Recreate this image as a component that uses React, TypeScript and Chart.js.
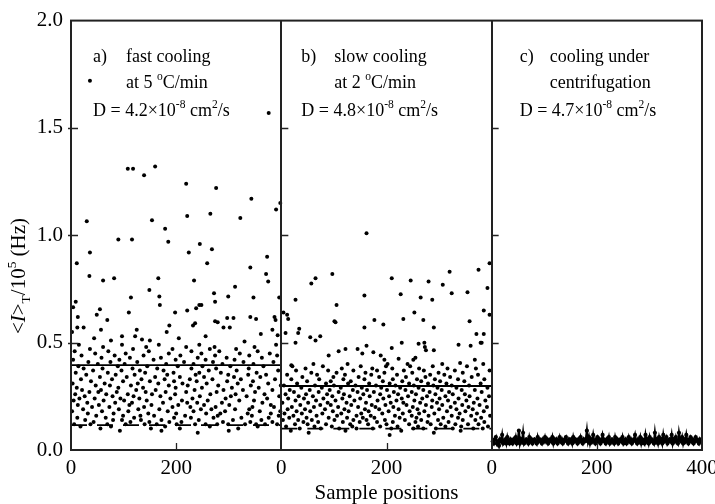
import React, { useEffect, useRef } from "react";
import { Chart, registerables } from "chart.js";
Chart.register(...registerables);

const FONT = "'Liberation Serif', 'Times New Roman', serif";
const PANEL_SPAN = 400;
const OFFSET_A = 0;
const OFFSET_B = 400;
const OFFSET_C = 800;

const X_TICK_VALUES = [0, 200, 400, 600, 800, 1000, 1200];
const X_TICK_LABELS = ["0", "200", "0", "200", "0", "200", "400"];
const Y_TICK_LABELS = ["0.0", "0.5", "1.0", "1.5", "2.0"];

// Panel a: sparse high values [sample position, value]
const panelAHigh: [number, number][] = [
  [108, 1.31], [118, 1.31], [139, 1.28], [160, 1.32], [219, 1.24], [276, 1.22], [343, 1.17], [398, 1.15], [390, 1.12], [36, 1.72], [376, 1.57],
  [30, 1.065], [154, 1.07], [221, 1.09], [265, 1.1], [322, 1.08], [179, 1.03], [90, 0.98], [116, 0.98], [185, 0.97], [245, 0.96], [36, 0.92],
  [224, 0.92], [268, 0.935], [11, 0.87], [373, 0.9], [259, 0.87], [35, 0.81], [341, 0.85], [371, 0.82], [61, 0.79], [82, 0.8], [166, 0.8],
  [234, 0.79], [375, 0.785], [312, 0.76], [149, 0.745], [272, 0.73], [114, 0.71], [347, 0.71], [299, 0.715], [168, 0.715], [9, 0.69],
  [396, 0.71], [274, 0.69], [169, 0.675], [244, 0.675], [4, 0.665], [55, 0.655], [49, 0.63], [110, 0.64], [198, 0.64], [221, 0.65],
  [238, 0.66], [248, 0.675], [341, 0.62], [387, 0.62], [13, 0.62], [69, 0.605], [125, 0.56], [187, 0.58], [274, 0.6], [279, 0.595],
  [290, 0.57], [302, 0.57], [309, 0.615], [297, 0.615], [352, 0.61], [389, 0.605], [12, 0.57], [24, 0.57], [57, 0.56], [97, 0.53],
  [122, 0.53], [150, 0.51], [182, 0.55], [232, 0.58], [236, 0.59], [383, 0.56], [393, 0.535], [2, 0.55], [44, 0.52], [76, 0.51],
  [135, 0.515], [205, 0.52], [256, 0.53], [330, 0.505], [361, 0.54],
];

// Panel a: bulk of the scatter, grouped by value: [value, sample positions]
const panelABulk: [number, number[]][] = [
  [0.08, [241]],
  [0.09, [93, 300, 172]],
  [0.1, [56, 152, 318, 207]],
  [0.11, [18, 76, 179, 264, 355]],
  [0.12, [6, 37, 69, 104, 140, 163, 201, 236, 256, 278, 299, 331, 352, 369, 392]],
  [0.13, [43, 113, 187, 210, 289, 341, 383, 149]],
  [0.14, [27, 97, 133, 172, 243, 308, 362, 80]],
  [0.15, [12, 66, 120, 196, 228, 271, 324, 376]],
  [0.16, [48, 99, 158, 217, 279, 344, 395, 132]],
  [0.17, [32, 81, 147, 200, 257, 284, 336, 380]],
  [0.18, [2, 59, 109, 184, 233, 293, 359, 398]],
  [0.19, [23, 91, 128, 168, 247, 312, 339, 267]],
  [0.2, [40, 73, 139, 193, 227, 275, 345, 386]],
  [0.21, [13, 53, 111, 153, 204, 253, 301, 380]],
  [0.22, [31, 84, 116, 175, 240, 287, 364, 221]],
  [0.23, [5, 62, 101, 144, 211, 260, 320, 348]],
  [0.24, [45, 94, 130, 189, 231, 294, 373, 16]],
  [0.25, [26, 79, 119, 170, 245, 304, 334, 396]],
  [0.26, [8, 67, 108, 154, 198, 265, 313, 368]],
  [0.27, [35, 87, 142, 180, 219, 277, 350, 52]],
  [0.28, [21, 57, 124, 161, 235, 290, 327, 383]],
  [0.29, [11, 90, 137, 199, 249, 306, 357]],
  [0.3, [47, 74, 114, 186, 222, 280, 342, 399]],
  [0.31, [3, 64, 127, 166, 212, 258, 317, 375]],
  [0.32, [38, 99, 150, 196, 239, 297, 346]],
  [0.33, [19, 78, 134, 178, 226, 269, 323, 388]],
  [0.34, [55, 106, 160, 207, 253, 310, 360]],
  [0.35, [29, 85, 121, 183, 237, 299, 337, 371]],
  [0.36, [9, 70, 141, 195, 244, 285, 353]],
  [0.37, [42, 96, 131, 176, 262, 315, 394]],
  [0.38, [24, 60, 117, 164, 229, 276, 338]],
  [0.39, [14, 89, 145, 203, 250, 303, 366]],
  [0.4, [51, 102, 181, 233, 288, 347]],
  [0.41, [33, 75, 126, 215, 270, 328, 385]],
  [0.42, [4, 92, 157, 199, 256, 311]],
  [0.43, [58, 112, 171, 241, 296, 363]],
  [0.44, [20, 83, 138, 208, 274, 339, 392]],
  [0.45, [46, 104, 186, 248, 321, 378]],
  [0.46, [7, 71, 148, 229, 282, 355]],
  [0.47, [36, 118, 193, 264, 314]],
  [0.48, [61, 143, 219, 273, 349]],
  [0.49, [15, 97, 167, 244, 390]],
];

// Panel b: sparse high values [sample position, value]
const panelBHigh: [number, number][] = [
  [162, 1.01], [97, 0.82], [65, 0.8], [57, 0.775], [210, 0.8], [246, 0.79], [280, 0.785], [307, 0.77], [320, 0.83], [375, 0.84],
  [396, 0.87], [392, 0.755], [158, 0.72], [227, 0.725], [324, 0.73], [354, 0.735], [27, 0.7], [265, 0.71], [287, 0.7], [105, 0.675],
  [385, 0.65], [253, 0.64], [396, 0.63], [101, 0.6], [103, 0.595], [158, 0.57], [177, 0.605], [194, 0.585], [232, 0.61], [270, 0.605],
  [290, 0.57], [358, 0.6], [4, 0.64], [11, 0.63], [13, 0.61], [8, 0.545], [34, 0.565], [32, 0.545], [55, 0.525], [65, 0.51],
  [74, 0.53], [27, 0.5], [229, 0.5], [261, 0.495], [273, 0.48], [275, 0.465], [272, 0.5], [337, 0.49], [360, 0.485], [371, 0.54],
  [385, 0.54], [379, 0.5], [381, 0.5], [19, 0.395], [90, 0.44], [109, 0.46], [122, 0.47], [145, 0.47], [162, 0.485], [154, 0.45],
  [175, 0.455], [189, 0.44], [196, 0.42], [202, 0.4], [210, 0.475], [223, 0.425], [251, 0.42], [290, 0.465], [255, 0.43], [368, 0.42],
  [340, 0.405],
];

// Panel b: bulk of the scatter, grouped by value: [value, sample positions]
const panelBBulk: [number, number[]][] = [
  [0.07, [206]],
  [0.08, [52, 290]],
  [0.09, [18, 122, 228, 341]],
  [0.1, [35, 75, 110, 143, 174, 209, 251, 270, 294, 326, 365, 383]],
  [0.11, [9, 63, 96, 135, 188, 221, 260, 312, 342, 393]],
  [0.12, [26, 50, 85, 131, 165, 200, 243, 284, 303, 331, 355, 375]],
  [0.13, [42, 70, 117, 149, 182, 212, 255, 278, 318, 386]],
  [0.14, [3, 32, 58, 101, 137, 162, 197, 235, 266, 298, 345, 369]],
  [0.15, [15, 48, 90, 125, 155, 177, 225, 257, 308, 336, 380]],
  [0.16, [23, 67, 106, 143, 170, 216, 248, 280, 324, 361, 397]],
  [0.17, [6, 39, 78, 114, 152, 192, 231, 262, 291, 339, 372]],
  [0.18, [29, 55, 98, 128, 166, 204, 244, 272, 315, 350, 385]],
  [0.19, [12, 45, 83, 120, 159, 186, 223, 259, 300, 333, 364]],
  [0.2, [20, 62, 108, 146, 179, 213, 250, 286, 322, 356, 391]],
  [0.21, [36, 74, 94, 133, 172, 198, 238, 275, 306, 344, 377]],
  [0.22, [2, 51, 88, 124, 161, 208, 232, 264, 296, 330, 366]],
  [0.23, [27, 66, 103, 139, 183, 219, 253, 287, 317, 352, 388]],
  [0.24, [13, 43, 80, 116, 150, 194, 229, 268, 301, 337, 373]],
  [0.25, [33, 60, 97, 130, 168, 205, 241, 277, 312, 358, 395]],
  [0.26, [8, 47, 87, 119, 156, 188, 222, 256, 293, 326, 349]],
  [0.27, [24, 71, 109, 145, 176, 214, 248, 282, 319, 381]],
  [0.28, [16, 54, 92, 136, 163, 201, 236, 270, 305, 343, 368]],
  [0.29, [38, 77, 113, 153, 190, 226, 261, 297, 333, 392]],
  [0.3, [5, 64, 100, 141, 180, 217, 252, 289, 324, 357]],
  [0.31, [30, 85, 127, 167, 206, 243, 279, 314, 379]],
  [0.32, [49, 94, 132, 193, 230, 266, 302, 348]],
  [0.33, [19, 72, 118, 158, 212, 258, 292, 336, 386]],
  [0.34, [40, 99, 147, 186, 237, 274, 321, 362]],
  [0.35, [11, 68, 121, 171, 220, 283, 310, 374]],
  [0.36, [57, 105, 160, 196, 249, 299, 345]],
  [0.37, [28, 89, 137, 182, 233, 271, 330, 396]],
  [0.38, [46, 115, 173, 211, 262, 316, 370]],
  [0.39, [21, 79, 151, 199, 245, 288, 353]],
  [0.4, [61, 126, 240, 306, 384]],
];

// Panel c: values in sample order
const panelCValues: number[] = [
  0.04, 0.03, 0.05, 0.06, 0.03, 0.04, 0.02, 0.05, 0.04, 0.07, 0.03, 0.04, 0.05, 0.03, 0.06, 0.04, 0.03, 0.05, 0.04, 0.03,
  0.05, 0.04, 0.06, 0.03, 0.04, 0.09, 0.03, 0.05, 0.04, 0.08, 0.03, 0.04, 0.05, 0.04, 0.03, 0.06, 0.04, 0.05, 0.03, 0.04,
  0.05, 0.04, 0.03, 0.06, 0.04, 0.05, 0.04, 0.03, 0.05, 0.04, 0.06, 0.04, 0.05, 0.03, 0.04, 0.05, 0.04, 0.06, 0.03, 0.05,
  0.04, 0.05, 0.03, 0.04, 0.06, 0.04, 0.05, 0.03, 0.04, 0.05, 0.06, 0.04, 0.03, 0.05, 0.04, 0.05, 0.03, 0.06, 0.04, 0.05,
  0.04, 0.03, 0.05, 0.04, 0.06, 0.04, 0.03, 0.05, 0.04, 0.05, 0.09, 0.04, 0.06, 0.03, 0.05, 0.04, 0.07, 0.04, 0.03, 0.05,
  0.06, 0.04, 0.05, 0.03, 0.04, 0.07, 0.05, 0.04, 0.03, 0.05, 0.04, 0.06, 0.03, 0.04, 0.05, 0.04, 0.03, 0.06, 0.04, 0.05,
  0.03, 0.04, 0.05, 0.04, 0.06, 0.03, 0.04, 0.05, 0.03, 0.04, 0.06, 0.04, 0.05, 0.03, 0.04, 0.05, 0.07, 0.04, 0.03, 0.05,
  0.04, 0.06, 0.03, 0.05, 0.04, 0.03, 0.07, 0.04, 0.05, 0.03, 0.06, 0.04, 0.05, 0.04, 0.03, 0.08, 0.04, 0.05, 0.03, 0.06,
  0.04, 0.05, 0.03, 0.07, 0.04, 0.05, 0.06, 0.03, 0.04, 0.05, 0.04, 0.07, 0.03, 0.05, 0.04, 0.06, 0.04, 0.03, 0.08, 0.05,
  0.04, 0.06, 0.03, 0.05, 0.04, 0.07, 0.04, 0.03, 0.05, 0.06, 0.04, 0.05, 0.03, 0.04, 0.06, 0.05, 0.04, 0.03, 0.05, 0.04,
];

// Averages (solid) and baselines (dashed)
const MEAN_A = 0.395;
const BASE_A = 0.116;
const MEAN_B = 0.298;
const BASE_B = 0.1;

type Seg = { t: string; sup?: boolean; sub?: boolean; it?: boolean };

const ANNOTATIONS: { offset: number; dx1: number; dx2: number; lines: Seg[][] }[] = [
  {
    offset: OFFSET_A, dx1: 22, dx2: 55,
    lines: [
      [{ t: "a)" }], [{ t: "fast cooling" }],
      [{ t: "at 5 " }, { t: "o", sup: true }, { t: "C/min" }],
      [{ t: "D = 4.2×10" }, { t: "-8", sup: true }, { t: " cm" }, { t: "2", sup: true }, { t: "/s" }],
    ],
  },
  {
    offset: OFFSET_B, dx1: 20, dx2: 53,
    lines: [
      [{ t: "b)" }], [{ t: "slow cooling" }],
      [{ t: "at 2 " }, { t: "o", sup: true }, { t: "C/min" }],
      [{ t: "D = 4.8×10" }, { t: "-8", sup: true }, { t: " cm" }, { t: "2", sup: true }, { t: "/s" }],
    ],
  },
  {
    offset: OFFSET_C, dx1: 28, dx2: 58,
    lines: [
      [{ t: "c)" }], [{ t: "cooling under" }],
      [{ t: "centrifugation" }],
      [{ t: "D = 4.7×10" }, { t: "-8", sup: true }, { t: " cm" }, { t: "2", sup: true }, { t: "/s" }],
    ],
  },
];

const Y_TITLE: Seg[] = [
  { t: "<" }, { t: "I", it: true }, { t: ">" }, { t: "T", sub: true }, { t: "/10" }, { t: "5", sup: true }, { t: " (Hz)" },
];

function drawRich(ctx: CanvasRenderingContext2D, segs: Seg[], x: number, y: number, size: number, measureOnly = false) {
  let cx = x;
  for (const s of segs) {
    const small = s.sup || s.sub;
    const sz = small ? size * 0.64 : size;
    ctx.font = `${s.it ? "italic " : ""}${sz}px ${FONT}`;
    const dy = s.sup ? -size * 0.42 : s.sub ? size * 0.22 : 0;
    if (!measureOnly) ctx.fillText(s.t, cx, y + dy);
    cx += ctx.measureText(s.t).width;
  }
  return cx - x;
}

const framePlugin = {
  id: "framePlugin",
  afterDraw(chart: any) {
    const ctx: CanvasRenderingContext2D = chart.ctx;
    const { left, right, top, bottom } = chart.chartArea;
    const xs = chart.scales.x;
    const ys = chart.scales.y;
    ctx.save();
    ctx.strokeStyle = "#222";
    ctx.lineWidth = 2;
    ctx.strokeRect(left, top, right - left, bottom - top);
    const bounds = [OFFSET_A, OFFSET_B, OFFSET_C];
    ctx.beginPath();
    for (const b of bounds.slice(1)) {
      const px = Math.round(xs.getPixelForValue(b));
      ctx.moveTo(px, top);
      ctx.lineTo(px, bottom);
    }
    ctx.stroke();
    // inward ticks
    ctx.lineWidth = 1.3;
    ctx.beginPath();
    for (const b of bounds) {
      const px = xs.getPixelForValue(b);
      for (const v of [0.5, 1.0, 1.5]) {
        const py = Math.round(ys.getPixelForValue(v)) + 0.5;
        ctx.moveTo(px - (b === 0 ? 3 : 0), py);
        ctx.lineTo(px + 7, py);
      }
      const tx = Math.round(xs.getPixelForValue(b + 200)) + 0.5;
      ctx.moveTo(tx, bottom);
      ctx.lineTo(tx, bottom - 7);
    }
    ctx.stroke();

    ctx.fillStyle = "#000";
    // x tick labels
    ctx.font = `21px ${FONT}`;
    ctx.textAlign = "center";
    ctx.textBaseline = "middle";
    X_TICK_VALUES.forEach((v, i) => {
      ctx.fillText(X_TICK_LABELS[i], xs.getPixelForValue(v), bottom + 18);
    });

    ctx.textBaseline = "alphabetic";
    ctx.textAlign = "left";
    const baselines = [62, 88, 116];
    for (const a of ANNOTATIONS) {
      const px = xs.getPixelForValue(a.offset);
      drawRich(ctx, a.lines[0], px + a.dx1, baselines[0], 18);
      drawRich(ctx, a.lines[1], px + a.dx2, baselines[0], 18);
      drawRich(ctx, a.lines[2], px + a.dx2, baselines[1], 18);
      drawRich(ctx, a.lines[3], px + a.dx1, baselines[2], 18);
    }

    // x title
    ctx.font = `21px ${FONT}`;
    ctx.textAlign = "center";
    ctx.fillText("Sample positions", (left + right) / 2, 499);

    // y title
    ctx.textAlign = "left";
    ctx.translate(18, 276);
    ctx.rotate(-Math.PI / 2);
    const w = drawRich(ctx, Y_TITLE, 0, 0, 21, true);
    drawRich(ctx, Y_TITLE, -w / 2, 7, 21);
    ctx.restore();
  },
};

export default function App() {
  const ref = useRef<HTMLCanvasElement | null>(null);
  useEffect(() => {
    if (!ref.current) return;
    const pairs = (ps: [number, number][], offset: number) => ps.map(([x, y]) => ({ x: offset + x, y }));
    const levels = (ls: [number, number[]][], offset: number) =>
      ls.flatMap(([y, xsList]) => xsList.map((x) => ({ x: offset + x, y })));
    const cLine = panelCValues.map((y, i) => ({ x: OFFSET_C + 2 + (i * (PANEL_SPAN - 4)) / (panelCValues.length - 1), y }));
    const hline = (y: number, offset: number) => [{ x: offset, y }, { x: offset + PANEL_SPAN, y }];

    const pointDs = (data: any[]) => ({
      type: "scatter" as const,
      data,
      pointRadius: 2,
      pointBackgroundColor: "#000",
      pointBorderWidth: 0,
      showLine: false,
    });
    const lineDs = (data: any[], dash: number[]) => ({
      type: "line" as const,
      data,
      borderColor: "#000",
      borderWidth: 1.8,
      borderDash: dash,
      pointRadius: 0,
      fill: false,
    });

    const chart = new Chart(ref.current, {
      type: "scatter",
      data: {
        datasets: [
          pointDs(pairs(panelAHigh, OFFSET_A)),
          pointDs(levels(panelABulk, OFFSET_A)),
          pointDs(pairs(panelBHigh, OFFSET_B)),
          pointDs(levels(panelBBulk, OFFSET_B)),
          {
            type: "line" as const,
            data: cLine,
            borderColor: "#000",
            borderWidth: 2.2,
            pointRadius: 2.1,
            pointBackgroundColor: "#000",
            pointBorderWidth: 0,
            tension: 0,
            fill: false,
          },
          lineDs(hline(MEAN_A, OFFSET_A), []),
          lineDs(hline(BASE_A, OFFSET_A), [16, 10]),
          lineDs(hline(MEAN_B, OFFSET_B), []),
          lineDs(hline(BASE_B, OFFSET_B), [16, 10]),
        ] as any,
      },
      options: {
        responsive: false,
        animation: false,
        layout: { padding: { top: 20, right: 13, left: 0, bottom: 0 } },
        plugins: { legend: { display: false }, tooltip: { enabled: false }, title: { display: false } },
        scales: {
          x: {
            type: "linear",
            min: 0,
            max: 1200,
            grid: { display: false, drawTicks: false },
            border: { display: false },
            ticks: { display: false, stepSize: 200 },
            afterFit: (s: any) => { s.height = 54; },
          },
          y: {
            min: 0,
            max: 2,
            grid: { display: false, drawTicks: false },
            border: { display: false },
            ticks: {
              stepSize: 0.5,
              padding: 8,
              color: "#000",
              font: { family: FONT, size: 21 },
              callback: (_v: any, i: number) => Y_TICK_LABELS[i],
            },
            afterFit: (s: any) => { s.width = 71; },
          },
        },
      },
      plugins: [framePlugin],
    });
    return () => chart.destroy();
  }, []);
  return (
    <div style={{ position: "fixed", left: 0, top: 0, width: 715, height: 504, background: "#fff" }}>
      <canvas ref={ref} width={715} height={504} style={{ display: "block" }} />
    </div>
  );
}
